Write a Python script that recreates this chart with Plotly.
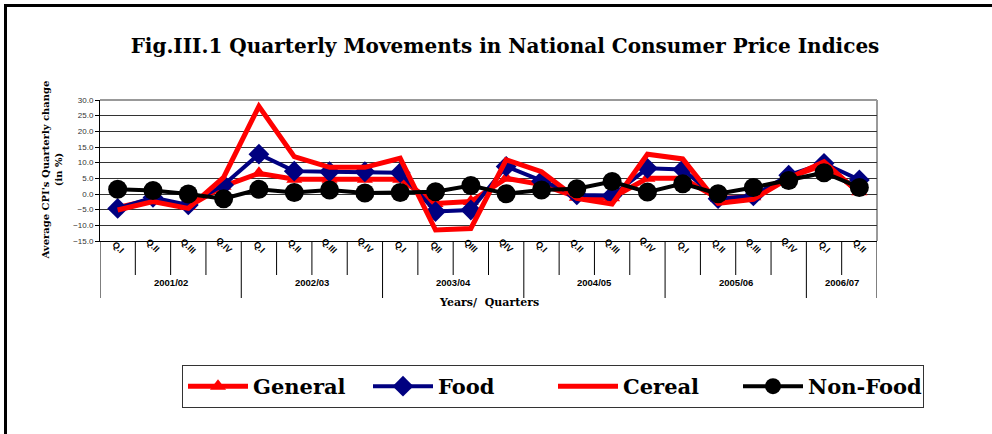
import plotly.graph_objects as go

years = ["2001/02", "2002/03", "2003/04", "2004/05", "2005/06", "2006/07"]
quarters_per_year = [4, 4, 4, 4, 4, 2]
quarter_labels = ["Q.I", "Q.II", "Q.III", "Q.IV",
                  "Q.I", "Q.II", "Q.III", "Q.IV",
                  "Q.I", "QII", "QIII", "QIV",
                  "Q.I", "Q.II", "Q.III", "Q.IV",
                  "Q.I", "Q.II", "Q.III", "Q.IV",
                  "Q.I", "Q.II"]

general = [-4.3, -1.8, -4.0, 2.5, 6.6, 4.7, 4.7, 4.7, 4.7, -3.0, -2.4, 5.0,
           3.0, -1.0, -1.2, 5.0, 5.0, -1.4, -0.9, 5.3, 9.3, 0.7]
food = [-4.6, -1.1, -3.5, 2.9, 12.7, 7.3, 7.1, 7.1, 6.8, -5.6, -5.1, 8.8,
        4.1, -0.3, -0.5, 8.2, 7.8, -1.5, -0.6, 6.0, 9.8, 4.5]
cereal = [-5.1, -2.4, -4.6, 5.3, 28.0, 11.9, 8.5, 8.5, 11.4, -11.5, -11.0, 10.9,
          7.1, -1.4, -3.2, 12.7, 11.2, -3.0, -1.7, 5.0, 10.3, 0.2]
nonfood = [1.5, 1.1, 0.0, -1.5, 1.5, 0.5, 1.3, 0.3, 0.5, 0.7, 2.7, 0.1,
           1.3, 1.7, 4.0, 0.6, 3.3, 0.1, 2.1, 4.3, 6.8, 2.1]

y_ticks = [-15, -10, -5, 0, 5, 10, 15, 20, 25, 30]

# unique category ids
year_of = []
for yname, n in zip(years, quarters_per_year):
    year_of += [yname] * n
cats = [f"{y} {q}" for y, q in zip(year_of, quarter_labels)]

SERIF = "DejaVu Serif"
SANS = "Liberation Sans, Arial"

fig = go.Figure()
fig.add_trace(go.Scatter(x=cats, y=general, name="General", mode="lines+markers",
                         line=dict(color="#FF0000", width=5),
                         marker=dict(symbol="triangle-up", size=14, color="#FF0000")))
fig.add_trace(go.Scatter(x=cats, y=food, name="Food", mode="lines+markers",
                         line=dict(color="#000080", width=4),
                         marker=dict(symbol="diamond", size=16, color="#000080")))
fig.add_trace(go.Scatter(x=cats, y=cereal, name="Cereal", mode="lines",
                         line=dict(color="#FF0000", width=5)))
fig.add_trace(go.Scatter(x=cats, y=nonfood, name="Non-Food", mode="lines+markers",
                         line=dict(color="#000000", width=4),
                         marker=dict(symbol="circle", size=19, color="#000000")))

W, H = 992, 434
L, R, T, B = 100, 115, 100, 193
PW, PH = W - L - R, H - T - B


def px2x(px):
    return (px - L) / PW


def px2y(py):
    return (H - B - py) / PH


shapes = []
# outer frame (top and left)
shapes.append(dict(type="line", xref="paper", yref="paper", x0=px2x(4), x1=px2x(992),
                   y0=px2y(5.5), y1=px2y(5.5), line=dict(color="black", width=3)))
shapes.append(dict(type="line", xref="paper", yref="paper", x0=px2x(5.5), x1=px2x(5.5),
                   y0=px2y(4), y1=px2y(434), line=dict(color="black", width=3)))
# plot area border top/right gray
shapes.append(dict(type="line", xref="paper", yref="paper", x0=0, x1=1, y0=1, y1=1,
                   line=dict(color="#999999", width=2), layer="below"))
shapes.append(dict(type="line", xref="paper", yref="paper", x0=1, x1=1, y0=0, y1=1,
                   line=dict(color="#999999", width=2), layer="below"))

# hierarchical axis dividers
n = len(cats)
year_bounds = [0]
for q in quarters_per_year:
    year_bounds.append(year_bounds[-1] + q)
for i in range(n + 1):
    bottom = px2y(298) if i in year_bounds else px2y(275)
    shapes.append(dict(type="line", xref="x", yref="paper", x0=i - 0.5, x1=i - 0.5,
                       y0=0, y1=bottom, line=dict(color="black", width=1)))

annotations = []
for c, q in zip(cats, quarter_labels):
    annotations.append(dict(x=c, xref="x", y=px2y(258), yref="paper", text=q,
                            showarrow=False, textangle=45,
                            font=dict(family=SANS, size=9, color="black", weight="bold")))
for k, yname in enumerate(years):
    mid = (year_bounds[k] + year_bounds[k + 1] - 1) / 2
    annotations.append(dict(x=mid, xref="x", y=px2y(290), yref="paper", text=yname,
                            showarrow=False,
                            font=dict(family=SANS, size=9.5, color="black", weight="bold")))
annotations.append(dict(x=0.5, xref="paper", y=px2y(311), yref="paper",
                        text="Years/  Quarters", showarrow=False,
                        font=dict(family=SERIF, size=11, color="black", weight="bold")))
annotations.append(dict(x=px2x(51), xref="paper", xanchor="center", y=0.5, yref="paper",
                        yanchor="middle",
                        text="Average CPI's Quarterly change<br>(in %)", showarrow=False,
                        textangle=-90,
                        font=dict(family=SERIF, size=10, color="black", weight="bold")))

fig.update_layout(
    width=W, height=H,
    margin=dict(l=L, r=R, t=T, b=B),
    paper_bgcolor="white", plot_bgcolor="white",
    title=dict(text="Fig.III.1 Quarterly Movements in National Consumer Price Indices",
               x=505 / W, xanchor="center", y=1 - 46 / H, yanchor="middle",
               font=dict(family=SERIF, size=20, color="black", weight="bold")),
    xaxis=dict(type="category", categoryarray=cats, range=[-0.5, n - 0.5],
               showticklabels=False, ticks="", showgrid=False, zeroline=False,
               showline=True, linecolor="black", linewidth=1),
    yaxis=dict(range=[-15, 30], tickvals=y_ticks, tickformat=".1f",
               ticks="outside", ticklen=4, tickcolor="black",
               showgrid=True, gridcolor="#333333", gridwidth=1, zeroline=False,
               showline=True, linecolor="black", linewidth=1,
               tickfont=dict(family=SANS, size=8, color="#333333")),
    showlegend=True,
    legend=dict(orientation="h", x=px2x(182), xanchor="left", y=px2y(365), yanchor="top",
                bordercolor="#333333", borderwidth=1, bgcolor="white",
                itemwidth=60, entrywidth=110,
                font=dict(family=SERIF, size=21, color="black", weight="bold")),
    shapes=shapes,
    annotations=annotations,
)

fig.write_html("out.html", config={"displayModeBar": False},
               post_script="document.body.style.margin='0';")
